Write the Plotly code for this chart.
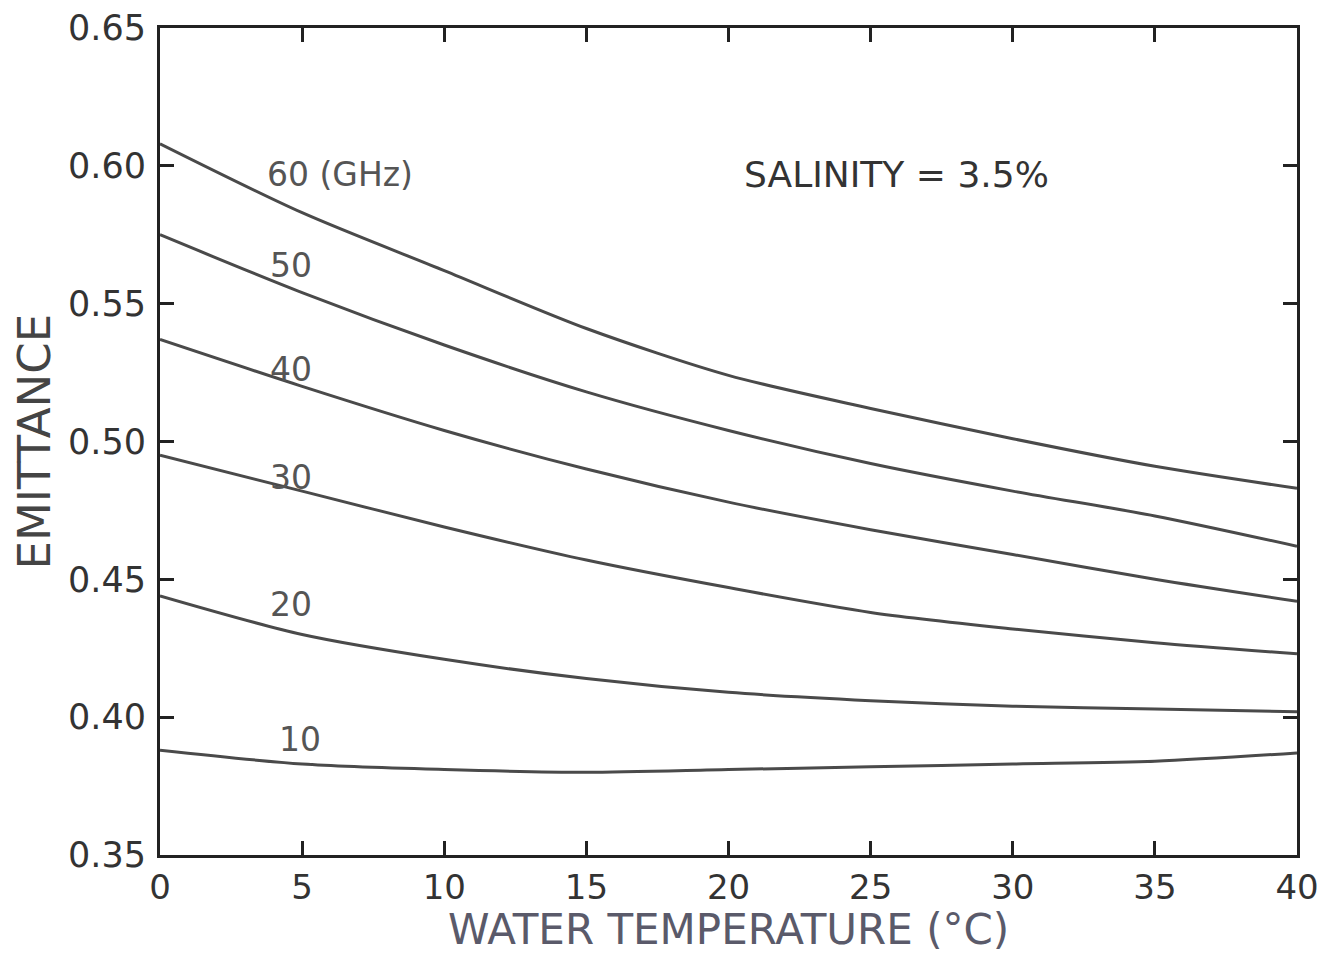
import plotly.graph_objects as go

temps = [0, 5, 10, 15, 20, 25, 30, 35, 40]
e60 = [0.608, 0.583, 0.562, 0.541, 0.524, 0.512, 0.501, 0.491, 0.483]
e50 = [0.575, 0.554, 0.535, 0.518, 0.504, 0.492, 0.482, 0.473, 0.462]
e40 = [0.537, 0.520, 0.504, 0.490, 0.478, 0.468, 0.459, 0.450, 0.442]
e30 = [0.495, 0.482, 0.469, 0.457, 0.447, 0.438, 0.432, 0.427, 0.423]
e20 = [0.444, 0.430, 0.421, 0.414, 0.409, 0.406, 0.404, 0.403, 0.402]
e10 = [0.388, 0.383, 0.381, 0.380, 0.381, 0.382, 0.383, 0.384, 0.387]

series = [e60, e50, e40, e30, e20, e10]
labels = ["60 (GHz)", "50", "40", "30", "20", "10"]
label_x = [3.7, 3.8, 3.8, 3.8, 3.8, 4.1]
label_y = [0.597, 0.564, 0.526, 0.487, 0.441, 0.392]

xticks = [0, 5, 10, 15, 20, 25, 30, 35, 40]
yticks = [0.35, 0.40, 0.45, 0.50, 0.55, 0.60, 0.65]
ytick_text = ["0.35", "0.40", "0.45", "0.50", "0.55", "0.60", "0.65"]

FONT = "DejaVu Sans"
fig = go.Figure()
for s in series:
    fig.add_trace(go.Scatter(x=temps, y=s, mode="lines", line=dict(color="#4a4a4a", width=3, shape="spline", smoothing=0.8),
                             showlegend=False, hoverinfo="skip"))

for t, x, y in zip(labels, label_x, label_y):
    fig.add_annotation(x=x, y=y, text=t, showarrow=False, xanchor="left", yanchor="middle",
                       font=dict(family=FONT, size=33, color="#555555"))

fig.add_annotation(x=25.9, y=0.597, text="SALINITY = 3.5%", showarrow=False, xanchor="center", yanchor="middle",
                   font=dict(family=FONT, size=36, color="#333333"))

# axis titles
fig.add_annotation(xref="paper", yref="paper", x=0.5, y=-0.09, text="WATER TEMPERATURE (°C)",
                   showarrow=False, xanchor="center", yanchor="middle",
                   font=dict(family=FONT, size=42, color="#5a5a6a"))
fig.add_annotation(xref="paper", yref="paper", x=-0.11, y=0.5, text="EMITTANCE", textangle=-90,
                   showarrow=False, xanchor="center", yanchor="middle",
                   font=dict(family=FONT, size=45, color="#444444"))

fig.update_xaxes(range=[0, 40], tickvals=xticks, ticks="inside", ticklen=14, tickwidth=3, tickcolor="#222",
                 showline=True, linewidth=3, linecolor="#222", mirror="ticks", showgrid=False, zeroline=False,
                 automargin=False, ticklabeloverflow="allow",
                 tickfont=dict(family=FONT, size=34, color="#333333"))
fig.update_yaxes(range=[0.35, 0.65], tickvals=yticks, ticktext=ytick_text, ticks="inside", ticklen=14, tickwidth=3, tickcolor="#222",
                 showline=True, linewidth=3, linecolor="#222", mirror="ticks", showgrid=False, zeroline=False,
                 automargin=False, ticklabeloverflow="allow", ticklabelstandoff=4,
                 tickfont=dict(family=FONT, size=35, color="#333333"))

fig.update_layout(width=1328, height=958, margin=dict(l=152, r=39, t=20, b=111),
                  plot_bgcolor="white", paper_bgcolor="white")
fig.write_html("out.html")
